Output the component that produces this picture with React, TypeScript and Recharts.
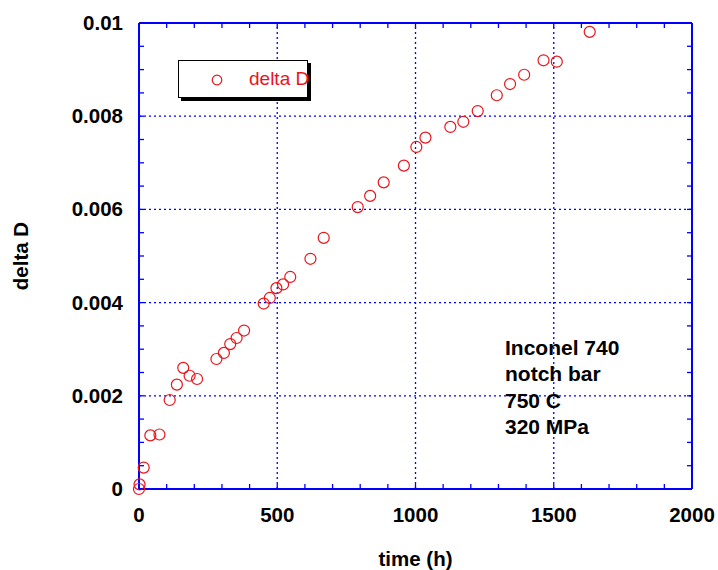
import { ScatterChart, Scatter, XAxis, YAxis, ReferenceLine, Legend } from 'recharts';

const timeH = [0, 2, 17, 41, 74, 111, 137, 160, 183, 210, 280, 307, 330, 353, 380, 451, 473, 497, 521, 547, 620, 668, 791, 836, 885, 958, 1003, 1036, 1126, 1173, 1225, 1294, 1342, 1393, 1463, 1511, 1630];
const deltaD = [0, 0.0001, 0.00046, 0.00115, 0.00117, 0.00191, 0.00224, 0.0026, 0.00243, 0.00236, 0.00279, 0.00292, 0.00311, 0.00324, 0.0034, 0.00398, 0.0041, 0.00431, 0.00439, 0.00455, 0.00494, 0.00539, 0.00605, 0.00629, 0.00658, 0.00694, 0.00734, 0.00754, 0.00777, 0.00788, 0.00811, 0.00845, 0.00869, 0.00889, 0.0092, 0.00917, 0.00981];

const xTicks = [0, 100, 200, 300, 400, 500, 600, 700, 800, 900, 1000, 1100, 1200, 1300, 1400, 1500, 1600, 1700, 1800, 1900, 2000];
const xLabels = [0, 500, 1000, 1500, 2000];
const xGrid = [500, 1000, 1500];
const yTicks = [0, 0.0005, 0.001, 0.0015, 0.002, 0.0025, 0.003, 0.0035, 0.004, 0.0045, 0.005, 0.0055, 0.006, 0.0065, 0.007, 0.0075, 0.008, 0.0085, 0.009, 0.0095, 0.01];
const yLabels = [0, 0.002, 0.004, 0.006, 0.008, 0.01];
const yGrid = [0.002, 0.004, 0.006, 0.008];
const notes = ['Inconel 740', 'notch bar', '750 C', '320 MPa'];

const data = timeH.map((t, i) => ({ t, d: deltaD[i] }));

const BLUE = '#0000ff';
const RED = '#e8141c';
const FONT = '"Liberation Sans", Arial, sans-serif';
const TICK_LEN = 5;

// label-only axes (sit 1px outside the frame)
function BottomLabel({ x, y, payload }: any) {
  return (
    <text x={x} y={y + 32} textAnchor="middle" fontFamily={FONT} fontWeight={700} fontSize={20.5} fill="#000">
      {payload.value}
    </text>
  );
}

function LeftLabel({ x, y, payload }: any) {
  return (
    <text x={x - 15} y={y + 7} textAnchor="end" fontFamily={FONT} fontWeight={700} fontSize={20.5} fill="#000">
      {payload.value}
    </text>
  );
}

// frame axes: inward minor ticks on all four sides
function TickDown({ x, y }: any) {
  return <line x1={x} x2={x} y1={y} y2={y + TICK_LEN} stroke={BLUE} strokeWidth={1.3} />;
}
function TickUp({ x, y }: any) {
  return <line x1={x} x2={x} y1={y} y2={y - TICK_LEN} stroke={BLUE} strokeWidth={1.3} />;
}
function TickRight({ x, y }: any) {
  return <line x1={x} x2={x + TICK_LEN} y1={y} y2={y} stroke={BLUE} strokeWidth={1.3} />;
}
function TickLeft({ x, y }: any) {
  return <line x1={x} x2={x - TICK_LEN} y1={y} y2={y} stroke={BLUE} strokeWidth={1.3} />;
}

function YLabel({ viewBox }: any) {
  const cx = 20;
  const cy = viewBox.y + viewBox.height / 2;
  return (
    <text x={cx} y={cy} transform={`rotate(-90, ${cx}, ${cy})`} textAnchor="middle" dominantBaseline="central"
      fontFamily={FONT} fontWeight={700} fontSize={20.5} fill="#000">
      delta D
    </text>
  );
}

function XLabel({ viewBox }: any) {
  return (
    <text x={viewBox.x + viewBox.width / 2} y={viewBox.y + 76} textAnchor="middle"
      fontFamily={FONT} fontWeight={700} fontSize={20.5} fill="#000">
      time (h)
    </text>
  );
}

function Circle({ cx, cy }: any) {
  return <circle cx={cx} cy={cy} r={5.5} fill="none" stroke={RED} strokeWidth={1.2} />;
}

function LegendBox() {
  return (
    <div style={{
      width: 128, height: 36, border: '1.5px solid #000', background: '#fff',
      boxShadow: '3px 3px 0 #000', display: 'flex', alignItems: 'center', whiteSpace: 'nowrap',
    }}>
      <svg width={60} height={36} style={{ flex: 'none' }}>
        <circle cx={38} cy={19} r={4.8} fill="none" stroke={RED} strokeWidth={1.2} />
      </svg>
      <span style={{ fontFamily: FONT, fontSize: 19, color: RED, marginLeft: 10 }}>delta D</span>
    </div>
  );
}

export default function App() {
  const frame = { stroke: BLUE, strokeWidth: 2 };
  const tickAxis = { type: 'number' as const, tickSize: 0, tickMargin: 0, interval: 0, axisLine: frame, tickLine: false };
  return (
    <div style={{ position: 'absolute', left: 0, top: 0, width: 718, height: 570, background: '#fff' }}>
      <ScatterChart width={718} height={570} margin={{ top: 22, right: 25, bottom: 0, left: 0 }}>
        {/* frame + ticks, declared first so they sit next to the plot */}
        <XAxis xAxisId="bt" orientation="bottom" dataKey="t" domain={[0, 2000]} ticks={xTicks} height={1}
          tick={<TickUp />} {...tickAxis} />
        <YAxis yAxisId="lt" orientation="left" dataKey="d" domain={[0, 0.01]} ticks={yTicks} width={1}
          tick={<TickRight />} {...tickAxis} />
        <XAxis xAxisId="top" orientation="top" dataKey="t" domain={[0, 2000]} ticks={xTicks} height={1}
          tick={<TickDown />} {...tickAxis} />
        <YAxis yAxisId="right" orientation="right" dataKey="d" domain={[0, 0.01]} ticks={yTicks} width={1}
          tick={<TickLeft />} {...tickAxis} />
        {/* labels */}
        <XAxis xAxisId="lx" type="number" dataKey="t" domain={[0, 2000]} ticks={xLabels} interval={0} height={80}
          tickSize={0} tickMargin={0} tickLine={false} axisLine={false} tick={<BottomLabel />}
          label={<XLabel />} />
        <YAxis yAxisId="ly" type="number" dataKey="d" domain={[0, 0.01]} ticks={yLabels} interval={0} width={138}
          tickSize={0} tickMargin={0} tickLine={false} axisLine={false} tick={<LeftLabel />}
          label={<YLabel />} />
        {xGrid.map(v => (
          <ReferenceLine key={`gx${v}`} xAxisId="bt" yAxisId="lt" x={v} stroke={BLUE} strokeDasharray="2 3" strokeWidth={1.3} />
        ))}
        {yGrid.map(v => (
          <ReferenceLine key={`gy${v}`} xAxisId="bt" yAxisId="lt" y={v} stroke={BLUE} strokeDasharray="2 3" strokeWidth={1.3} />
        ))}
        <Legend layout="horizontal" verticalAlign="middle" align="center" content={<LegendBox />}
          wrapperStyle={{ left: 178, top: 60, width: 131, height: 38 }} />
        {/* bind the extra axes */}
        <Scatter xAxisId="top" yAxisId="right" data={data} shape={() => null} legendType="none" isAnimationActive={false} />
        <Scatter xAxisId="lx" yAxisId="ly" data={data} shape={() => null} legendType="none" isAnimationActive={false} />
        <Scatter name="delta D" xAxisId="bt" yAxisId="lt" data={data} shape={<Circle />} isAnimationActive={false} />
      </ScatterChart>
      {/* sample info */}
      <div style={{
        position: 'absolute', left: 505, top: 335, fontFamily: FONT, fontWeight: 700,
        fontSize: 21, lineHeight: '26.3px', color: '#000',
      }}>
        {notes.map(n => <div key={n}>{n}</div>)}
      </div>
    </div>
  );
}
